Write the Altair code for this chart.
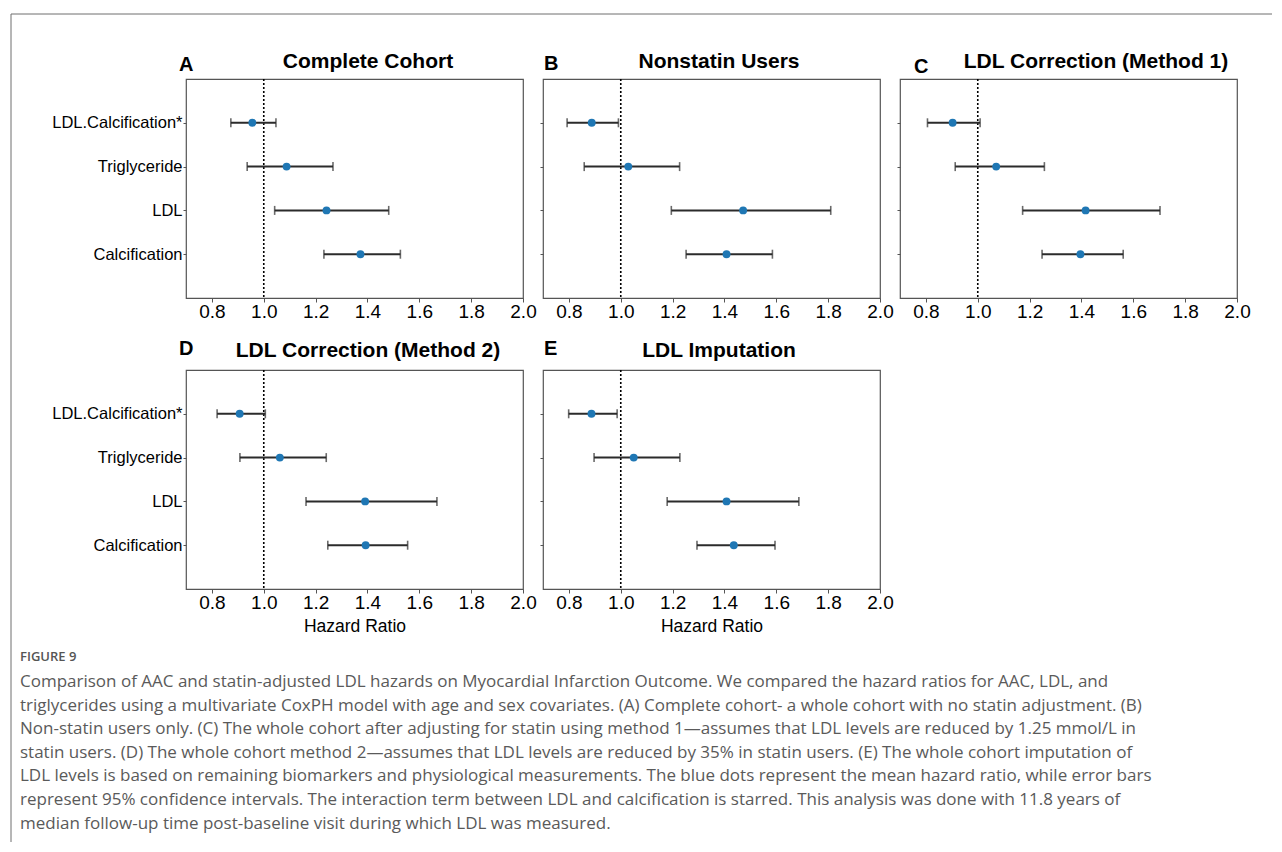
import altair as alt
import pandas as pd

# ---------------- data ----------------
variables = ["LDL.Calcification*", "Triglyceride", "LDL", "Calcification"]
panel_keys = ["A", "B", "C", "D", "E"]
panel_titles = ["Complete Cohort", "Nonstatin Users", "LDL Correction (Method 1)",
                "LDL Correction (Method 2)", "LDL Imputation"]

hr_A = [0.956, 1.088, 1.242, 1.373]
lo_A = [0.873, 0.936, 1.042, 1.232]
hi_A = [1.047, 1.267, 1.482, 1.527]

hr_B = [0.888, 1.029, 1.472, 1.408]
lo_B = [0.793, 0.859, 1.195, 1.252]
hi_B = [0.991, 1.227, 1.810, 1.585]

hr_C = [0.903, 1.071, 1.416, 1.396]
lo_C = [0.806, 0.913, 1.173, 1.248]
hi_C = [1.009, 1.257, 1.703, 1.561]

hr_D = [0.907, 1.062, 1.391, 1.393]
lo_D = [0.820, 0.908, 1.163, 1.247]
hi_D = [1.006, 1.241, 1.668, 1.555]

hr_E = [0.887, 1.050, 1.408, 1.436]
lo_E = [0.799, 0.897, 1.179, 1.294]
hi_E = [0.986, 1.228, 1.687, 1.595]

x_ticks = [0.8, 1.0, 1.2, 1.4, 1.6, 1.8, 2.0]
reference_hr = [1.0]

caption_label = "FIGURE 9"
caption_lines = [
    "Comparison of AAC and statin-adjusted LDL hazards on Myocardial Infarction Outcome. We compared the hazard ratios for AAC, LDL, and",
    "triglycerides using a multivariate CoxPH model with age and sex covariates. (A) Complete cohort- a whole cohort with no statin adjustment. (B)",
    "Non-statin users only. (C) The whole cohort after adjusting for statin using method 1\u2014assumes that LDL levels are reduced by 1.25 mmol/L in",
    "statin users. (D) The whole cohort method 2\u2014assumes that LDL levels are reduced by 35% in statin users. (E) The whole cohort imputation of",
    "LDL levels is based on remaining biomarkers and physiological measurements. The blue dots represent the mean hazard ratio, while error bars",
    "represent 95% confidence intervals. The interaction term between LDL and calcification is starred. This analysis was done with 11.8 years of",
    "median follow-up time post-baseline visit during which LDL was measured.",
]

# ---------------- layout (pixels) ----------------
W, H = 337, 219
COL_GAP, ROW_GAP = 20, 72
D_LEFT, D_TOP = 184, 368          # page position of panel D's plot area
line_page_y0, line_step = 680, 23.6

rows = []
for key, hrs, los, his in [("A", hr_A, lo_A, hi_A), ("B", hr_B, lo_B, hi_B), ("C", hr_C, lo_C, hi_C),
                           ("D", hr_D, lo_D, hi_D), ("E", hr_E, lo_E, hi_E)]:
    for v, h, l, u in zip(variables, hrs, los, his):
        rows.append({"panel": key, "var": v, "hr": h, "lo": l, "hi": u})
df = pd.DataFrame(rows)
ref_df = pd.DataFrame({"ref": reference_hr})
one = pd.DataFrame({"k": [0]})

FONT = "Liberation Sans"
LINE_COLOR = "#2b2b2b"
DOT_COLOR = "#1f77b4"

title_dx = {"A": 13.5, "B": 7.5, "C": 27.5, "D": 13.5, "E": 7.5}
title_off = {"A": 11, "B": 11, "C": 11, "D": 13, "E": 13}
letter_pos = {"A": (-7, -8), "B": (1, -9), "C": (14, -6), "D": (-7, -15), "E": (1, -15)}


def panel(i):
    key = panel_keys[i]
    show_y = key in ("A", "D")
    xtitle = "Hazard Ratio" if key in ("D", "E") else None
    base = alt.Chart(df).transform_filter(alt.datum.panel == key)

    xscale = alt.Scale(domain=[0.7, 2.0], nice=False, zero=False)
    xaxis = alt.Axis(values=x_ticks, format=".1f", labelFlush=False, grid=False, domain=False,
                     tickSize=4, labelPadding=0, labelFontSize=19, titleFontSize=17.5,
                     titlePadding=5, titleFontWeight="normal")
    yenc = alt.Y("var:N", sort=variables, title=None,
                 scale=alt.Scale(type="point", padding=1),
                 axis=alt.Axis(labels=show_y, ticks=True, tickSize=3, labelPadding=1,
                               domain=False, grid=False, labelFontSize=16.5))

    ref = alt.Chart(ref_df).mark_rule(color="black", strokeDash=[2, 2], strokeWidth=1.6).encode(
        x=alt.X("ref:Q", scale=xscale, axis=xaxis, title=xtitle))
    ci = base.mark_rule(color=LINE_COLOR, strokeWidth=2).encode(
        x=alt.X("lo:Q", scale=xscale, title=xtitle), x2="hi:Q", y=yenc)
    cap_lo = base.mark_tick(color=LINE_COLOR, thickness=1.6, size=9).encode(
        x=alt.X("lo:Q", scale=xscale, title=xtitle), y=yenc)
    cap_hi = base.mark_tick(color=LINE_COLOR, thickness=1.6, size=9).encode(
        x=alt.X("hi:Q", scale=xscale, title=xtitle), y=yenc)
    dots = base.mark_circle(color=DOT_COLOR, size=62, opacity=1).encode(
        x=alt.X("hr:Q", scale=xscale, title=xtitle), y=yenc)
    lx, ly = letter_pos[key]
    letter = alt.Chart(one).mark_text(fontSize=20, fontWeight="bold", font=FONT, align="left",
                                      baseline="alphabetic", color="black").encode(
        x=alt.value(lx), y=alt.value(ly), text=alt.value(key))
    title = alt.Chart(one).mark_text(fontSize=21, fontWeight="bold", font=FONT, align="center",
                                     baseline="alphabetic", color="black").encode(
        x=alt.value(W / 2 + title_dx[key]), y=alt.value(-title_off[key]),
        text=alt.value(panel_titles[i]))

    layers = [ref, ci, cap_lo, cap_hi, dots, letter, title]

    if key == "D":
        # caption and figure border, positioned relative to panel D's plot area
        cap_x = 18 - D_LEFT
        layers.append(alt.Chart(one).mark_text(fontSize=13, fontWeight=600, font="Open Sans", align="left",
                                               baseline="middle", color="#555555").encode(
            x=alt.value(cap_x), y=alt.value(655 - D_TOP), text=alt.value(caption_label)))
        for li, txt in enumerate(caption_lines):
            yv = line_page_y0 + li * line_step - D_TOP
            layers.append(alt.Chart(one).mark_text(
                fontSize=17, font="Open Sans", align="left", baseline="middle",
                color="#5a5a5a").encode(
                x=alt.value(cap_x), y=alt.value(yv), text=alt.value(txt)))
        bx, by = 9 - D_LEFT, 12 - D_TOP
        rx, bb = 1270 - D_LEFT, 840 - D_TOP
        layers.append(alt.Chart(one).mark_rule(color="#6e6e6e", strokeWidth=1).encode(
            x=alt.value(bx), y=alt.value(by), y2=alt.value(bb)))
        layers.append(alt.Chart(one).mark_rule(color="#6e6e6e", strokeWidth=1).encode(
            x=alt.value(bx), x2=alt.value(rx), y=alt.value(by)))

    return alt.layer(*layers).properties(width=W, height=H)


chart = alt.concat(*[panel(i) for i in range(5)], columns=3,
                   spacing={"row": ROW_GAP, "column": COL_GAP}, bounds="flush").properties(
    padding={"left": 1, "top": 4, "right": 0, "bottom": 0}, background="white"
).configure_view(stroke="#555555", strokeWidth=1.2).configure_axis(
    labelFont=FONT, titleFont=FONT, labelColor="black", titleColor="black",
    tickColor="#555555", domain=False, grid=False
)

chart.save("out.html", embed_options={"renderer": "svg", "actions": False})
